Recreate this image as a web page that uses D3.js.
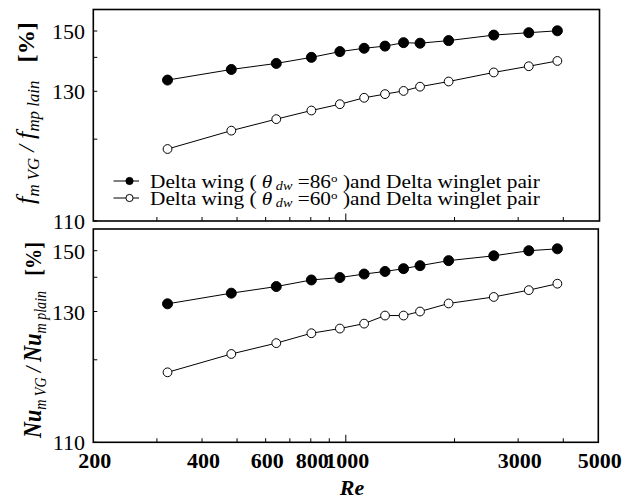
<!DOCTYPE html>
<html>
<head>
<meta charset="utf-8">
<script src="https://cdn.jsdelivr.net/npm/d3@7"></script>
<style>
  html, body { margin: 0; padding: 0; background: #fff; }
  svg { display: block; }
  text { font-family: "Liberation Serif", "Times New Roman", serif; fill: #000; }
</style>
</head>
<body>
<svg id="chart" width="633" height="499"></svg>
<script>
// ---- data ----
const reynolds = [321, 482, 642, 803, 963, 1124, 1284, 1445, 1605, 1926, 2568, 3210, 3852];
const fDw86 = [133.0, 136.1, 138.0, 140.0, 142.0, 143.2, 144.0, 145.3, 145.1, 146.1, 148.3, 149.3, 150.1];
const fDw60 = [118.4, 121.5, 123.7, 125.5, 126.9, 128.4, 129.3, 130.1, 131.2, 132.6, 135.2, 137.1, 138.8];
const nuDw86 = [132.0, 135.0, 137.0, 139.1, 139.9, 141.1, 142.0, 143.0, 144.1, 146.0, 147.9, 150.0, 150.8];
const nuDw60 = [118.0, 121.0, 123.0, 125.0, 126.0, 127.1, 129.0, 129.0, 130.0, 132.1, 133.9, 135.9, 137.9];
const xTickLabels = [200, 400, 600, 800, 1000, 3000, 5000];
const xMinorTicks = [300, 400, 500, 600, 700, 800, 900, 2000, 3000, 4000];
const xMajorTicks = [1000];
const yTickLabels = [110, 130, 150];
const yMinorTicks = [120, 140];
const yOffset = 100; // axis is logarithmic in (value - 100)
const legendLabels = ["86", "60"];

const svg = d3.select("#chart");

const x = d3.scaleLog().domain([200, 5000]).range([93.3, 598.3]);

const panels = [
  { top: 9.5, bottom: 221, filled: fDw86, hollow: fDw60, right: 599.5 },
  { top: 229, bottom: 442.3, filled: nuDw86, hollow: nuDw60, right: 598.3 }
];

function fitWidth(sel, target, ax) {
  const w = sel.node().getBBox().width;
  const k = target / w;
  sel.attr("transform", (sel.attr("transform") || "") +
    ` translate(${ax},0) scale(${k},1) translate(${-ax},0)`);
}

panels.forEach((p, pi) => {
  const y = d3.scaleLog().domain([10, 60]).range([p.bottom, p.top]);
  const g = svg.append("g");
  const yv = v => y(v - yOffset);

  g.selectAll(".xm").data(xMinorTicks).enter().append("line")
    .attr("x1", d => x(d)).attr("x2", d => x(d))
    .attr("y1", p.bottom).attr("y2", p.bottom - 4)
    .attr("stroke", "#000").attr("stroke-width", 1);
  g.selectAll(".xM").data(xMajorTicks).enter().append("line")
    .attr("x1", d => x(d)).attr("x2", d => x(d))
    .attr("y1", p.bottom).attr("y2", p.bottom - 7.5)
    .attr("stroke", "#000").attr("stroke-width", 1);

  g.selectAll(".yt").data(yTickLabels.concat(yMinorTicks)).enter().append("line")
    .attr("x1", x.range()[0]).attr("x2", x.range()[0] + 4)
    .attr("y1", d => yv(d)).attr("y2", d => yv(d))
    .attr("stroke", "#000").attr("stroke-width", 1);

  g.selectAll(".yl").data(yTickLabels).enter().append("text")
    .attr("x", 85).attr("y", d => yv(d) + 8)
    .attr("text-anchor", "end")
    .style("font-size", "22px")
    .text(d => d);

  g.append("rect")
    .attr("x", x.range()[0]).attr("y", p.top)
    .attr("width", p.right - x.range()[0]).attr("height", p.bottom - p.top)
    .attr("fill", "none").attr("stroke", "#000").attr("stroke-width", 1.6);

  const line = d3.line().x((d, i) => x(reynolds[i])).y(d => yv(d));
  [p.filled, p.hollow].forEach((series, si) => {
    g.append("path").datum(series)
      .attr("d", line).attr("fill", "none")
      .attr("stroke", "#000").attr("stroke-width", 1);
    g.selectAll(".pt" + si).data(series).enter().append("circle")
      .attr("cx", (d, i) => x(reynolds[i])).attr("cy", d => yv(d))
      .attr("r", si === 0 ? 5 : 4.4)
      .attr("fill", si === 0 ? "#000" : "#fff")
      .attr("stroke", "#000").attr("stroke-width", 1);
  });
});

svg.selectAll(".xl").data(xTickLabels).enter().append("text")
  .attr("x", d => x(d) + 1.5).attr("y", 468)
  .attr("text-anchor", "middle")
  .style("font-size", "22px").style("font-weight", "bold")
  .text(d => d);

svg.append("text").attr("x", 352).attr("y", 495)
  .attr("text-anchor", "middle")
  .style("font-size", "22px").style("font-weight", "bold").style("font-style", "italic")
  .text("Re");

function yTitle(cx, cy, len, main, mainStyle, sub1, sub2) {
  const g = svg.append("g").attr("transform", `translate(${cx},${cy}) rotate(-90)`);
  const t = g.append("text").attr("text-anchor", "middle").attr("xml:space", "preserve");
  t.append("tspan").style("font-size", "25px").style("font-style", "italic")
    .style("font-weight", mainStyle).text(main);
  t.append("tspan").attr("dy", 5).style("font-size", "16px").style("font-style", "italic").text(sub1);
  t.append("tspan").attr("dy", -5).style("font-size", "23px").style("font-style", "italic").text(" / ");
  t.append("tspan").style("font-size", "25px").style("font-style", "italic")
    .style("font-weight", mainStyle).text(main);
  t.append("tspan").attr("dy", 5).style("font-size", "16px").style("font-style", "italic").text(sub2);
  t.append("tspan").attr("dy", -5).style("font-size", "23px").style("font-weight", "bold").text("\u00a0\u00a0\u00a0[%]");
  fitWidth(t, len, 0);
}
yTitle(34, 113, 182, "f", "normal", "m VG", "mp lain");
yTitle(41, 340, 197, "Nu", "bold", "m VG", "m plain");

legendLabels.forEach((ang, i) => {
  const ly = 181 + i * 17;
  svg.append("line").attr("x1", 113.5).attr("x2", 139).attr("y1", ly).attr("y2", ly)
    .attr("stroke", "#000").attr("stroke-width", 1);
  svg.append("circle").attr("cx", 129.5).attr("cy", ly).attr("r", 3.6)
    .attr("fill", i === 0 ? "#000" : "#fff").attr("stroke", "#000").attr("stroke-width", 1);
  const t = svg.append("text").attr("x", 150).attr("y", ly + 7).style("font-size", "18px")
    .attr("xml:space", "preserve");
  t.append("tspan").text("Delta wing ( ");
  t.append("tspan").style("font-style", "italic").text("θ");
  t.append("tspan").attr("dy", 2).style("font-style", "italic").style("font-size", "12px").text(" dw");
  t.append("tspan").attr("dy", -2).text(" =" + ang);
  t.append("tspan").attr("dy", -6).style("font-size", "11px").text("o");
  t.append("tspan").attr("dy", 6).text(" )and Delta winglet pair");
  fitWidth(t, 390, 150);
});
</script>
</body>
</html>
